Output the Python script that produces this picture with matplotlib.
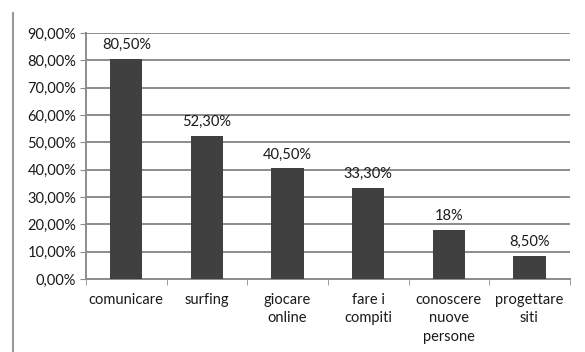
import matplotlib.pyplot as plt
from matplotlib.lines import Line2D
import numpy as np

categories = ['comunicare', 'surfing', 'giocare\nonline', 'fare i\ncompiti',
              'conoscere\nnuove\npersone', 'progettare\nsiti']
values = [80.5, 52.3, 40.5, 33.3, 18.0, 8.5]
value_labels = ['80,50%', '52,30%', '40,50%', '33,30%', '18%', '8,50%']
ytick_values = np.arange(0, 91, 10)
ytick_labels = ['%d,00%%' % v for v in ytick_values]

plt.rcParams['font.family'] = ['Lato', 'DejaVu Sans']

fig = plt.figure(figsize=(5.85, 3.52), dpi=100)
ax = fig.add_axes([0.147, 0.207, 0.827, 0.699])

index = np.arange(len(categories))
bars = ax.bar(index, values, 0.4, color='#404040', zorder=3)
ax.bar_label(bars, labels=value_labels, padding=5, fontsize=10.5, color='#1a1a1a')

ax.set_xlim(-0.5, len(categories) - 0.5)
ax.set_ylim(0, 90)
ax.set_yticks(ytick_values)
ax.set_yticklabels(ytick_labels, fontsize=10.5, color='#1a1a1a')
ax.yaxis.grid(True, color='#8c8c8c', linewidth=1.4, zorder=0)
ax.set_axisbelow(True)

ax.set_xticks(index)
ax.set_xticklabels(categories, fontsize=10.5, color='#1a1a1a', linespacing=1.4)
ax.set_xticks(np.arange(-0.5, len(categories)), minor=True)
ax.tick_params(axis='x', which='major', length=0, pad=10)
ax.tick_params(axis='x', which='minor', length=4, color='#8c8c8c')
ax.tick_params(axis='y', length=4, color='#8c8c8c', pad=3)

for s in ['top', 'right']:
    ax.spines[s].set_visible(False)
for s in ['left', 'bottom']:
    ax.spines[s].set_color('#8c8c8c')
    ax.spines[s].set_linewidth(1.4)

fig.add_artist(Line2D([0.022, 0.022], [0, 0.963], color='#999999', linewidth=1.5))

plt.savefig('out.png', dpi=100)
plt.close()
